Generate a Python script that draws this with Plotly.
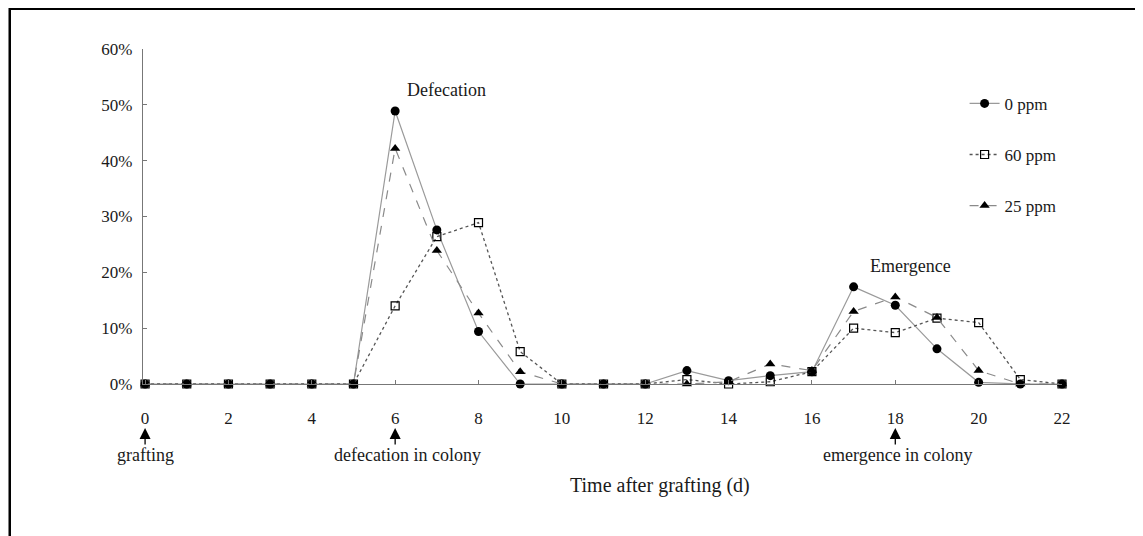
import plotly.graph_objects as go

days = list(range(0, 23))
ppm0 = [0, 0, 0, 0, 0, 0, 0.489, 0.276, 0.094, 0.0, 0, 0, 0, 0.024, 0.006, 0.015, 0.022, 0.174, 0.141, 0.063, 0.003, 0.0, 0.0]
ppm60 = [0, 0, 0, 0, 0, 0, 0.140, 0.264, 0.289, 0.058, 0, 0, 0, 0.008, 0.0, 0.004, 0.022, 0.100, 0.092, 0.118, 0.110, 0.008, 0.0]
ppm25 = [0, 0, 0, 0, 0, 0, 0.422, 0.239, 0.127, 0.022, 0, 0, 0, 0.0, 0.004, 0.036, 0.024, 0.130, 0.156, 0.119, 0.024, 0.0, 0.0]
series_names = ["0 ppm", "60 ppm", "25 ppm"]
x_ticks = list(range(0, 23, 2))
event_days = [0, 6, 18]
event_labels = ["grafting", "defecation in colony", "emergence in colony"]
event_label_x = [0, 6.3, 18.07]

FONT = "Liberation Serif"
TXT = "#1a1a1a"
PH = 335.0  # plot area height in px


def py(px_below_axis):
    return -px_below_axis / PH


fig = go.Figure()
fig.add_trace(go.Scatter(
    x=days, y=ppm0, name=series_names[0], mode="lines+markers", legendgroup="a",
    line=dict(color="#9a9a9a", width=1.2, dash="solid"),
    marker=dict(symbol="circle", size=9, color="black"), cliponaxis=False))
fig.add_trace(go.Scatter(
    x=days, y=ppm60, name=series_names[1], mode="lines+markers", legendgroup="b",
    line=dict(color="#555555", width=1.3, dash="dot"),
    marker=dict(symbol="square-open", size=8, color="black", line=dict(width=1.2)), cliponaxis=False))
fig.add_trace(go.Scatter(
    x=days, y=ppm25, name=series_names[2], mode="lines+markers", legendgroup="c",
    line=dict(color="#8a8a8a", width=1.2, dash="dash"),
    marker=dict(symbol="triangle-up", size=9, color="black"), cliponaxis=False))

annotations = [
    dict(x=7.22, y=0.527, xref="x", yref="y", text="Defecation", showarrow=False,
         yanchor="middle", font=dict(family=FONT, size=18, color=TXT)),
    dict(x=18.37, y=0.211, xref="x", yref="y", text="Emergence", showarrow=False,
         yanchor="middle", font=dict(family=FONT, size=18, color=TXT)),
    dict(x=12.36, y=py(101), xref="x", yref="paper", text="Time after grafting (d)", showarrow=False,
         yanchor="middle", font=dict(family=FONT, size=20, color=TXT)),
]
for ex, lx, label in zip(event_days, event_label_x, event_labels):
    annotations.append(dict(
        x=ex, y=py(44), xref="x", yref="paper", text="", showarrow=True,
        ax=0, ay=18, arrowhead=2, arrowsize=1.7, arrowwidth=1.3, arrowcolor="black"))
    annotations.append(dict(
        x=lx, y=py(71), xref="x", yref="paper", text=label, showarrow=False,
        yanchor="middle", font=dict(family=FONT, size=18, color=TXT)))

fig.update_layout(
    width=1135, height=528,
    margin=dict(l=135, r=81, t=41, b=152),
    paper_bgcolor="white", plot_bgcolor="white",
    font=dict(family=FONT, size=16, color=TXT),
    showlegend=True,
    legend=dict(x=0.894, y=0.89, xanchor="left", yanchor="top",
                bgcolor="rgba(0,0,0,0)", tracegroupgap=26,
                font=dict(family=FONT, size=17, color=TXT)),
    annotations=annotations,
    shapes=[dict(type="rect", xref="paper", yref="paper",
                 x0=-0.145, x1=1.085, y0=-0.46, y1=1.12,
                 line=dict(color="black", width=2.5))],
)
fig.update_xaxes(range=[-0.05, 22], tickvals=x_ticks, ticktext=[str(t) for t in x_ticks],
                 showline=True, linecolor="#777", linewidth=1.2,
                 ticks="inside", ticklen=4, tickcolor="#777",
                 showgrid=False, zeroline=False, ticklabelstandoff=18,
                 tickfont=dict(family=FONT, size=17, color=TXT))
fig.update_yaxes(range=[0, 0.6], dtick=0.1, tickformat=".0%",
                 showline=True, linecolor="#777", linewidth=1.2,
                 ticks="inside", ticklen=4, tickcolor="#777",
                 showgrid=False, zeroline=False, ticklabelstandoff=6,
                 tickfont=dict(family=FONT, size=17, color=TXT))

fig.write_html("out.html")
